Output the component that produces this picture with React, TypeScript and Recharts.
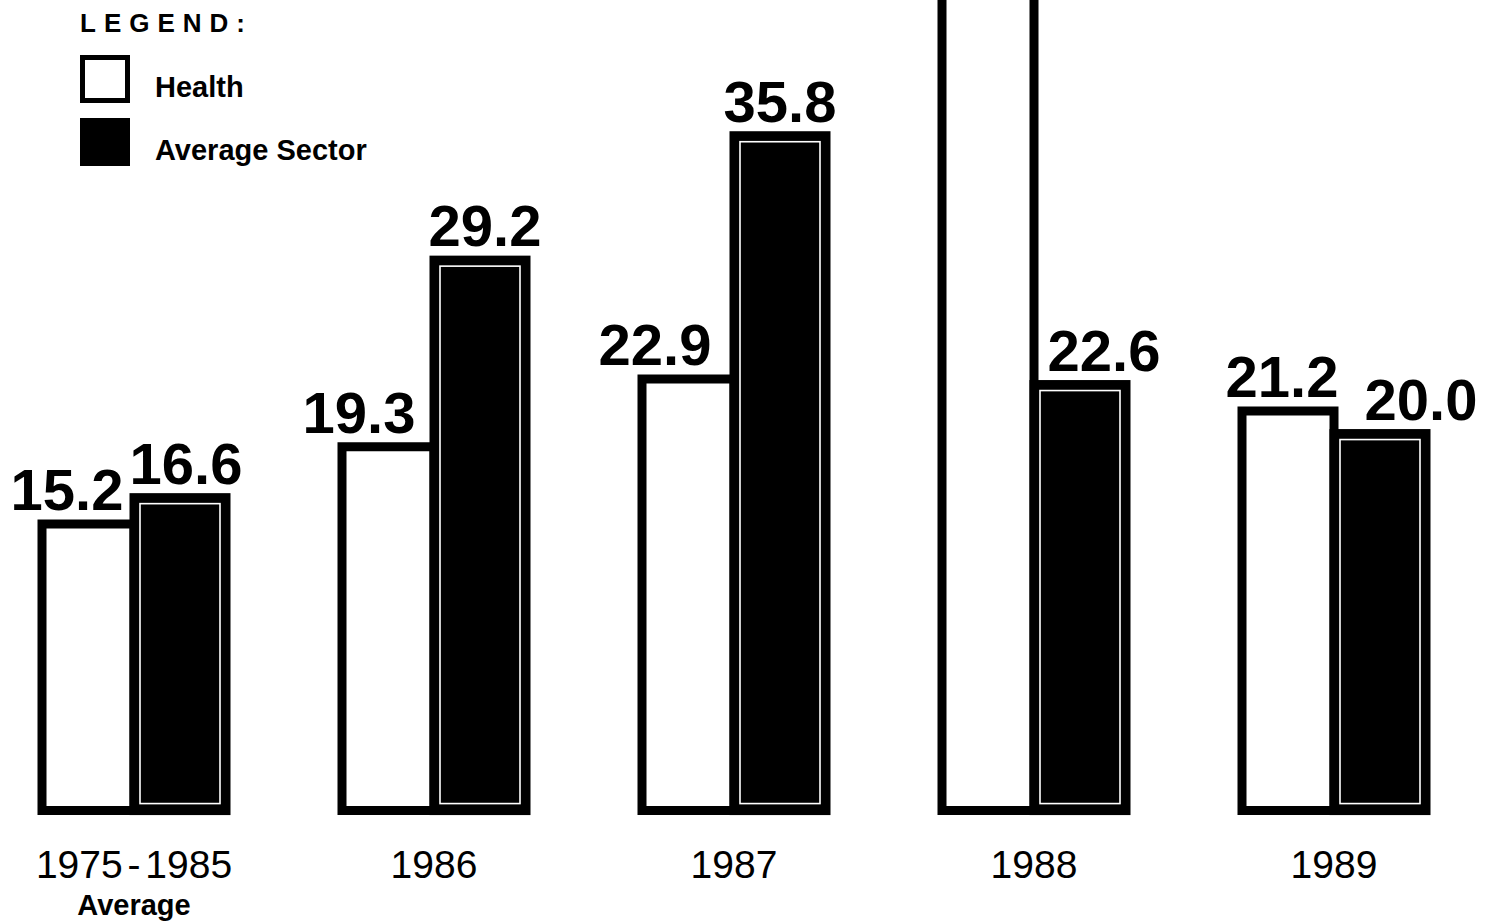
import React from 'react';
import { BarChart, Bar, XAxis, YAxis, Legend, LabelList } from 'recharts';

const categories = ['1975 - 1985', '1986', '1987', '1988', '1989'];
const categoryNotes = ['Average', '', '', '', ''];
const health = [15.2, 19.3, 22.9, 46.0, 21.2];
const averageSector = [16.6, 29.2, 35.8, 22.6, 20.0];
const seriesOrder = ['health', 'sector'];

// horizontal nudges for the value labels, as in the printed chart
const healthLabelDx = [-21, -29, -33, 0, -6];
const sectorLabelDx = [6, 5, 0, 24, 41];

const data = categories.map((category, i) => ({
  category,
  note: categoryNotes[i],
  health: health[i],
  sector: averageSector[i],
}));

const FONT = "'Liberation Sans', Arial, sans-serif";

function SectorShape(props: any) {
  const { x, y, width, height } = props;
  if (height <= 0) return null;
  return (
    <g>
      <rect x={x} y={y} width={width} height={height} fill="#000" stroke="#000" strokeWidth={9} />
      <rect x={x + 6} y={y + 6} width={width - 12} height={height - 13} fill="#000" stroke="#fff" strokeWidth={1.6} />
    </g>
  );
}

function valueLabel(offsets: number[]) {
  return (props: any) => {
    const { x, y, width, value, index } = props;
    // the bar that runs off the top of the page has no visible label
    if (y - 14 < 50) return null;
    return (
      <text
        x={x + width / 2 + (offsets[index] ?? 0)}
        y={y - 14}
        textAnchor="middle"
        fontFamily={FONT}
        fontWeight="bold"
        fontSize={58}
        fill="#000"
      >
        {Number(value).toFixed(1)}
      </text>
    );
  };
}

function CategoryTick(props: any) {
  const { x, y, payload, index } = props;
  const note = categoryNotes[index ?? payload.index] ?? '';
  return (
    <g>
      <text x={x} y={y + 58} textAnchor="middle" fontFamily={FONT} fontSize={39} wordSpacing={-6} fill="#000">
        {payload.value}
      </text>
      {note && (
        <text x={x} y={y + 95} textAnchor="middle" fontFamily={FONT} fontWeight="bold" fontSize={29} fill="#000">
          {note}
        </text>
      )}
    </g>
  );
}

function LegendBox(props: any) {
  const payload = props.payload ?? [];
  const items = seriesOrder
    .map((key) => payload.find((p: any) => p.dataKey === key))
    .filter(Boolean);
  return (
    <div style={{ position: 'relative', width: 400, height: 180, fontFamily: FONT, color: '#000' }}>
      <div style={{ position: 'absolute', left: 0, top: 6, fontSize: 26, fontWeight: 900, letterSpacing: 8, lineHeight: '34px' }}>
        LEGEND:
      </div>
      {items.map((item: any, i: number) => (
        <div key={i} style={{ position: 'absolute', left: 0, top: 55 + i * 63, height: 48, width: 400 }}>
          <div
            style={{
              position: 'absolute',
              left: 0,
              top: 0,
              width: 40,
              height: 38,
              border: '5px solid #000',
              background: item.color,
            }}
          />
          <div style={{ position: 'absolute', left: 75, bottom: 1, fontSize: 29, fontWeight: 'bold', lineHeight: '29px', whiteSpace: 'nowrap' }}>
            {item.value}
          </div>
        </div>
      ))}
    </div>
  );
}

export default function App() {
  return (
    <div style={{ position: 'absolute', left: -16, top: 0, width: 1500, height: 924, background: '#fff' }}>
      <BarChart width={1500} height={924} data={data} margin={{ top: 0, right: 0, bottom: 0, left: 0 }} barGap={0}>
        <XAxis
          dataKey="category"
          height={104}
          axisLine={false}
          tickLine={false}
          tickSize={0}
          tickMargin={0}
          interval={0}
          tick={<CategoryTick />}
        />
        <YAxis hide domain={[-0.5, 43]} allowDataOverflow />
        <Legend
          layout="horizontal"
          verticalAlign="middle"
          align="center"
          content={<LegendBox />}
          wrapperStyle={{ position: 'absolute', top: 0, left: 96, width: 400, height: 180 }}
        />
        <Bar dataKey="health" name="Health" fill="#fff" stroke="#000" strokeWidth={9} barSize={92} isAnimationActive={false}>
          <LabelList dataKey="health" content={valueLabel(healthLabelDx)} />
        </Bar>
        <Bar dataKey="sector" name="Average Sector" fill="#000" barSize={92} shape={<SectorShape />} isAnimationActive={false}>
          <LabelList dataKey="sector" content={valueLabel(sectorLabelDx)} />
        </Bar>
      </BarChart>
    </div>
  );
}
